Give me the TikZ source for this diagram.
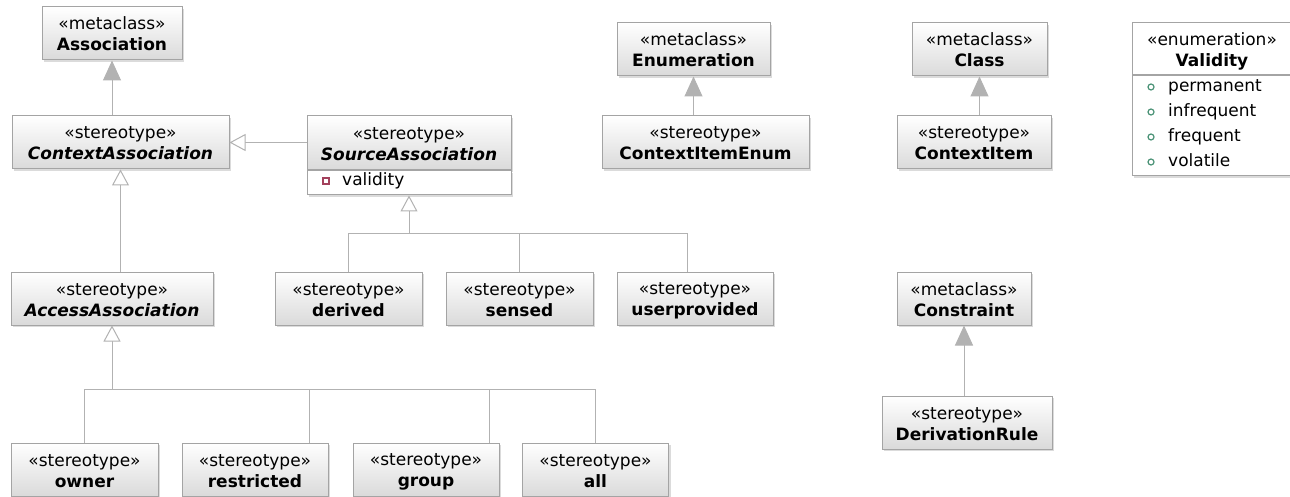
\documentclass[tikz,border=0pt]{standalone}
\usepackage{fontspec}
\setmainfont{DejaVu Sans}
\usetikzlibrary{arrows.meta,shadows}

\definecolor{umlline}{HTML}{B2B2B2}
\definecolor{umlborder}{HTML}{A4A4A4}
\definecolor{umlshade}{HTML}{DADADA}
\definecolor{attrmark}{HTML}{A3415C}
\definecolor{litmark}{HTML}{4A9276}

\newcommand{\umlhead}[2]{\rule{0pt}{17pt}«#1»\\#2\rule[-3pt]{0pt}{3pt}}

\begin{document}
\begin{tikzpicture}[x=1pt,y=-1pt,font=\fontsize{17}{21}\selectfont]
        \useasboundingbox (0,0) rectangle (1290,497);
        \clip (0,0) rectangle (1290,497);
        \begin{scope}[every node/.style={rectangle,draw=umlborder,line width=1pt,top color=white,bottom color=umlshade,
                drop shadow={shadow xshift=2pt,shadow yshift=-2pt,fill=black!14,opacity=1},
                minimum height=53pt,inner sep=0pt,align=center}]
            \node[minimum width=140pt] (assoc)    at (112,33.5)  {\umlhead{metaclass}{\textbf{Association}}};
            \node[minimum width=217pt] (ctxassoc) at (120.5,142.5) {\umlhead{stereotype}{\textbf{\textit{ContextAssociation}}}};
            \node[minimum width=204pt,minimum height=54pt] (srcassoc) at (409,143) {\umlhead{stereotype}{\textbf{\textit{SourceAssociation}}}};
            \node[minimum width=202pt] (access)   at (112,298.5) {\umlhead{stereotype}{\textbf{\textit{AccessAssociation}}}};

            \node[minimum width=147pt] (derived)  at (348.5,298.5) {\umlhead{stereotype}{\textbf{derived}}};
            \node[minimum width=147pt] (sensed)   at (519.5,298.5) {\umlhead{stereotype}{\textbf{sensed}}};
            \node[minimum width=156pt] (userprov) at (695,298.5)   {\umlhead{stereotype}{\textbf{userprovided}}};

            \node[minimum width=147pt] (owner)      at (84.5,469.5) {\umlhead{stereotype}{\textbf{owner}}};
            \node[minimum width=146pt] (restricted) at (255,469.5)  {\umlhead{stereotype}{\textbf{restricted}}};
            \node[minimum width=146pt] (group)      at (426,469.5)  {\umlhead{stereotype}{\textbf{group}}};
            \node[minimum width=146pt] (all)        at (595.5,469.5) {\umlhead{stereotype}{\textbf{all}}};

            \node[minimum width=153pt] (enum)    at (693.5,49.5) {\umlhead{metaclass}{\textbf{Enumeration}}};
            \node[minimum width=207pt] (ctxenum) at (705.5,142.5) {\umlhead{stereotype}{\textbf{ContextItemEnum}}};
            \node[minimum width=135pt] (class)   at (979.5,49.5) {\umlhead{metaclass}{\textbf{Class}}};
            \node[minimum width=154pt] (ctxitem) at (974,142.5)  {\umlhead{stereotype}{\textbf{ContextItem}}};

            \node[minimum width=134pt] (constraint) at (964,298.5) {\umlhead{metaclass}{\textbf{Constraint}}};
            \node[minimum width=170pt] (derivrule)  at (967,422.5) {\umlhead{stereotype}{\textbf{DerivationRule}}};

            \node[minimum width=160pt,minimum height=52pt,top color=white,bottom color=white] (validity) at (1212,49) {\umlhead{enumeration}{\textbf{Validity}}};
        \end{scope}

        % compartments
        \begin{scope}[every node/.style={rectangle,draw=umlborder,line width=1pt,fill=white,inner sep=0pt,
                drop shadow={shadow xshift=2pt,shadow yshift=-2pt,fill=black!14,opacity=1}}]
            \node[minimum width=204pt,minimum height=24pt,anchor=north] (srcattr)   at (srcassoc.south) {};
            \node[minimum width=160pt,minimum height=100pt,anchor=north] (validlits) at (validity.south) {};
        \end{scope}
        \begin{scope}[every node/.style={anchor=west,inner sep=0pt,text height=12pt,text depth=3pt}]
            \node[draw=attrmark,line width=1.2pt,minimum size=6pt,text height=,text depth=,anchor=center] (validmark) at (326,181) {};
            \node (validattr) at (342,181) {validity};
            \foreach \lit [count=\i] in {permanent,infrequent,frequent,volatile} {
                \node[circle,draw=litmark,line width=1.2pt,minimum size=6pt,text height=,text depth=,anchor=center] (mark\i) at (1151,62+25*\i) {};
                \node (lit\i) at (1168,62+25*\i) {\lit};
            }
        \end{scope}

        \begin{scope}[line width=1pt,draw=umlline]
            % extensions
            \begin{scope}[-{Triangle[length=20pt,width=18pt,fill=umlline]}]
                \draw[umlline] (ctxassoc.north -| assoc.south) -- (assoc.south);
                \draw[umlline] (ctxenum.north -| enum.south) -- (enum.south);
                \draw[umlline] (ctxitem.north -| class.south) -- (class.south);
                \draw[umlline] (derivrule.north -| constraint.south) -- (constraint.south);
            \end{scope}
            % generalizations
            \begin{scope}[-{Triangle[open,length=16pt,width=17pt,fill=white]}]
                \draw[umlline] (srcassoc.west |- ctxassoc.east) -- (ctxassoc.east);
                \draw[umlline] (ctxassoc.south |- access.north) -- (ctxassoc.south);
            \end{scope}
            \coordinate (srcbar) at (409,233);
            \coordinate (accbar) at (112,389);
            \draw[umlline,-{Triangle[open,length=16pt,width=17pt,fill=white]}] (srcbar) -- (srcattr.south);
            \draw[umlline,-{Triangle[open,length=16pt,width=17pt,fill=white]}] (accbar) -- (access.south);
            \draw[umlline] (derived.north) |- (srcbar);
            \draw[umlline] (sensed.north) |- (srcbar);
            \draw[umlline] ([xshift=-8pt]userprov.north) |- (srcbar);
            \draw[umlline] (owner.north) |- (accbar);
            \draw[umlline] ([xshift=54pt]restricted.north) |- (accbar);
            \draw[umlline] ([xshift=63pt]group.north) |- (accbar);
            \draw[umlline] (all.north) |- (accbar);
        \end{scope}
    \end{tikzpicture}
\end{document}
